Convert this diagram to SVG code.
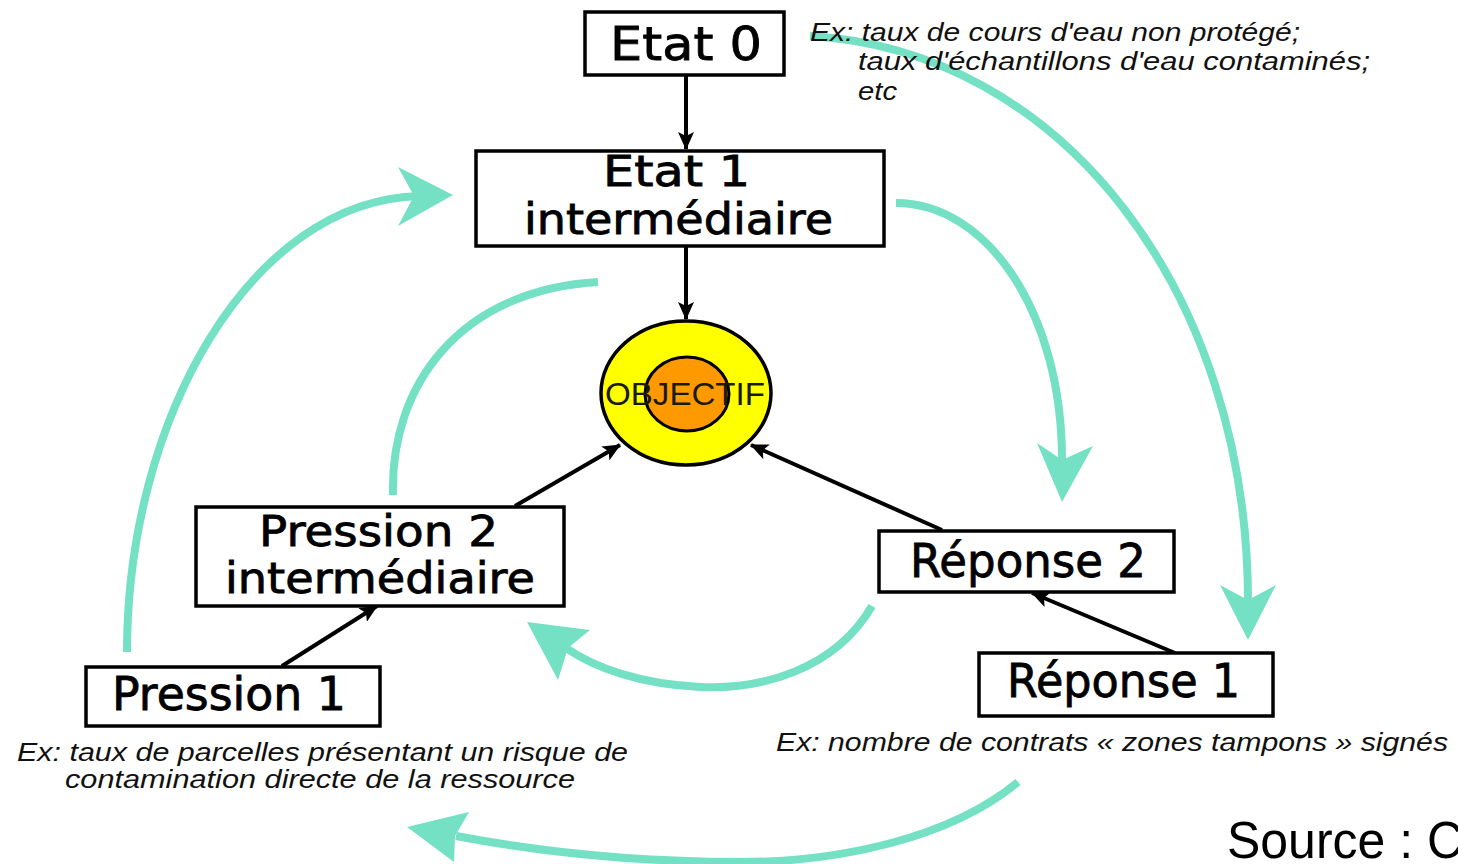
<svg xmlns="http://www.w3.org/2000/svg" width="1458" height="864" viewBox="0 0 1458 864">
<style>
  .box { fill: #ffffff; stroke: #000000; stroke-width: 3.5; }
  .lbl { font-family: "DejaVu Sans", "Liberation Sans", sans-serif; font-size: 46px; fill: #000000; stroke: #000000; stroke-width: 0.8; }
  .lbl2 { font-size: 42px; }
  .ex { font-family: "Liberation Sans", Arial, sans-serif; font-style: italic; font-size: 25px; fill: #111111; }
  .teal { fill: none; stroke: #74e0c4; stroke-width: 8; stroke-linecap: butt; }
  .tealhead { fill: #74e0c4; }
  .blk { fill: none; stroke: #000000; stroke-width: 4; marker-end: url(#ah); }
</style>
<defs>
  <marker id="ah" markerUnits="userSpaceOnUse" markerWidth="18" markerHeight="16" viewBox="0 0 18 16" refX="17" refY="8" orient="auto">
    <path d="M0,0 L18,8 L0,16 L4,8 z" fill="#000000"/>
  </marker>
</defs>
<rect x="0" y="0" width="1458" height="864" fill="#ffffff"/>

<g id="connectors">
  <path class="teal" d="M127,652 C127,420 250,200 420,196"/>
  <polygon class="tealhead" points="453,195 398,167 414,196 398,226"/>

  <path class="teal" stroke-width="7" d="M393,495 C390,385 460,290 598,282"/>

  <path class="teal" stroke-width="7" d="M896,203 C987,203 1062,312 1062,460"/>
  <polygon class="tealhead" points="1062,502 1037,443 1062,460 1093,446"/>

  <path class="teal" d="M810,36 C1060,50 1248,290 1248,602"/>
  <polygon class="tealhead" points="1248,640 1220,585 1248,600 1276,585"/>

  <path class="teal" d="M872,606 C835,670 760,690 700,687 C640,684 595,668 566,648"/>
  <polygon class="tealhead" points="527,622 590,630 568,648 558,680"/>

  <path class="teal" d="M1018,782 C950,838 840,862 740,862 C620,862 530,850 456,836"/>
  <polygon class="tealhead" points="407,827 469,812 455,836 454,862"/>

  <path class="blk" d="M686,75 L686,149"/>
  <path class="blk" d="M686,246 L686,319"/>
  <path class="blk" d="M515,506 L620,445"/>
  <path class="blk" d="M942,530 L751,445"/>
  <path class="blk" d="M282,666 L377,606"/>
  <path class="blk" d="M1175,653 L1032,593"/>
</g>

<g id="etat0">
  <rect class="box" x="585" y="12" width="199" height="63"/>
  <text class="lbl" x="610" y="60" textLength="152" lengthAdjust="spacingAndGlyphs">Etat 0</text>
</g>

<g id="etat1">
  <rect class="box" x="476" y="151" width="408" height="95"/>
  <text class="lbl lbl2" x="603" y="186" textLength="147" lengthAdjust="spacingAndGlyphs">Etat 1</text>
  <text class="lbl lbl2" x="524" y="234" textLength="309" lengthAdjust="spacingAndGlyphs">intermédiaire</text>
</g>

<g id="objectif">
  <ellipse cx="686" cy="393" rx="85" ry="72" fill="#ffff00" stroke="#000000" stroke-width="3.5"/>
  <ellipse cx="687" cy="394" rx="42" ry="37" fill="#ff9900" stroke="#000000" stroke-width="3"/>
  <text x="605" y="405" font-family="Liberation Sans, Arial, sans-serif" font-size="32" fill="#1a1a00" textLength="160" lengthAdjust="spacingAndGlyphs">OBJECTIF</text>
</g>

<g id="pression2">
  <rect class="box" x="196" y="507" width="368" height="99"/>
  <text class="lbl lbl2" x="259" y="546" textLength="239" lengthAdjust="spacingAndGlyphs">Pression 2</text>
  <text class="lbl lbl2" x="225" y="593" textLength="310" lengthAdjust="spacingAndGlyphs">intermédiaire</text>
</g>

<g id="pression1">
  <rect class="box" x="86" y="667" width="294" height="59"/>
  <text class="lbl" x="112" y="710" textLength="234" lengthAdjust="spacingAndGlyphs">Pression 1</text>
</g>

<g id="reponse2">
  <rect class="box" x="879" y="531" width="295" height="61"/>
  <text class="lbl" x="910" y="577" textLength="236" lengthAdjust="spacingAndGlyphs">Réponse 2</text>
</g>

<g id="reponse1">
  <rect class="box" x="979" y="653" width="294" height="63"/>
  <text class="lbl" x="1007" y="697" textLength="233" lengthAdjust="spacingAndGlyphs">Réponse 1</text>
</g>

<g id="notes">
  <text class="ex" x="810" y="41" textLength="490" lengthAdjust="spacingAndGlyphs">Ex: taux de cours d'eau non protégé;</text>
  <text class="ex" x="858" y="70" textLength="512" lengthAdjust="spacingAndGlyphs">taux d'échantillons d'eau contaminés;</text>
  <text class="ex" x="858" y="100" textLength="39" lengthAdjust="spacingAndGlyphs">etc</text>
  <text class="ex" x="17" y="761" textLength="611" lengthAdjust="spacingAndGlyphs">Ex: taux de parcelles présentant un risque de</text>
  <text class="ex" x="65" y="788" textLength="510" lengthAdjust="spacingAndGlyphs">contamination directe de la ressource</text>
  <text class="ex" x="776" y="751" textLength="672" lengthAdjust="spacingAndGlyphs">Ex: nombre de contrats « zones tampons » signés</text>
  <text x="1227" y="858" font-family="Liberation Sans, Arial, sans-serif" font-size="52" fill="#000000" textLength="236" lengthAdjust="spacingAndGlyphs">Source : C</text>
</g>
</svg>
